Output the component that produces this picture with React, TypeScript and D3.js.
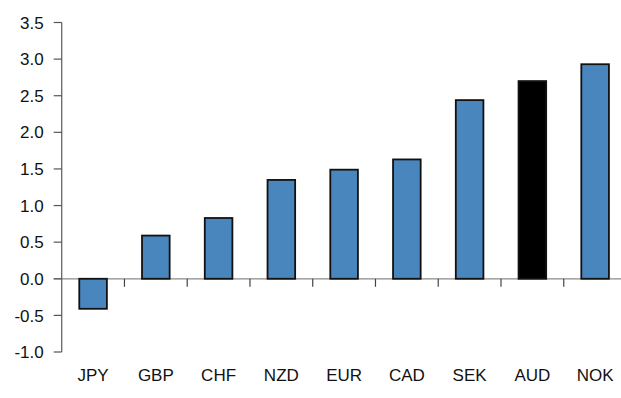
import React from "react";
import * as d3 from "d3";

const categories = ["JPY", "GBP", "CHF", "NZD", "EUR", "CAD", "SEK", "AUD", "NOK"];
const values = [-0.41, 0.59, 0.83, 1.35, 1.49, 1.63, 2.44, 2.70, 2.93];
const highlighted = ["AUD"];
const yTicks = [3.5, 3.0, 2.5, 2.0, 1.5, 1.0, 0.5, 0.0, -0.5, -1.0];

const W = 621;
const H = 398;
const FONT = "'Liberation Sans', Arial, sans-serif";

export default function App() {
  const y = d3.scaleLinear().domain([-1.0, 3.5]).range([352, 22.5]);
  const x = d3.scaleBand<string>().domain(categories).range([61.7, 626.5]).paddingInner(0).paddingOuter(0);
  const barW = x.bandwidth() * 0.44;
  const y0 = y(0);
  const axisX = x.range()[0];

  return (
    <svg width={W} height={H} style={{ position: "absolute", left: 0, top: 0, background: "#fff" }}>
      {/* zero line across the plot */}
      <line x1={axisX - 8} x2={W + 10} y1={y0} y2={y0} stroke="#8a8a8a" strokeWidth={1.3} />
      {/* category separators below the zero line */}
      {categories.slice(1).map((c) => (
        <line key={c} x1={x(c)!} x2={x(c)!} y1={y0} y2={y0 + 8} stroke="#444" strokeWidth={1.2} />
      ))}
      {/* y axis */}
      <line x1={axisX} x2={axisX} y1={y(3.5)} y2={y(-1.0)} stroke="#666" strokeWidth={1.3} />
      {yTicks.map((t) => (
        <g key={t}>
          <line x1={axisX - 8} x2={axisX} y1={y(t)} y2={y(t)} stroke="#555" strokeWidth={1.2} />
          <text
            x={axisX - 18}
            y={y(t)}
            dy="0.36em"
            textAnchor="end"
            fontFamily={FONT}
            fontSize={17}
            fill="#111"
          >
            {t.toFixed(1)}
          </text>
        </g>
      ))}
      {/* bars */}
      {categories.map((c, i) => {
        const v = values[i];
        const cx = x(c)! + x.bandwidth() / 2;
        const top = Math.min(y(v), y0);
        const h = Math.abs(y(v) - y0);
        return (
          <rect
            key={c}
            x={cx - barW / 2}
            y={top}
            width={barW}
            height={h}
            fill={highlighted.includes(c) ? "#000" : "#4A86BE"}
            stroke="#111"
            strokeWidth={1.8}
          />
        );
      })}
      {/* category labels */}
      {categories.map((c) => (
        <text
          key={c}
          x={x(c)! + x.bandwidth() / 2}
          y={381}
          textAnchor="middle"
          fontFamily={FONT}
          fontSize={17}
          fill="#111"
        >
          {c}
        </text>
      ))}
    </svg>
  );
}
